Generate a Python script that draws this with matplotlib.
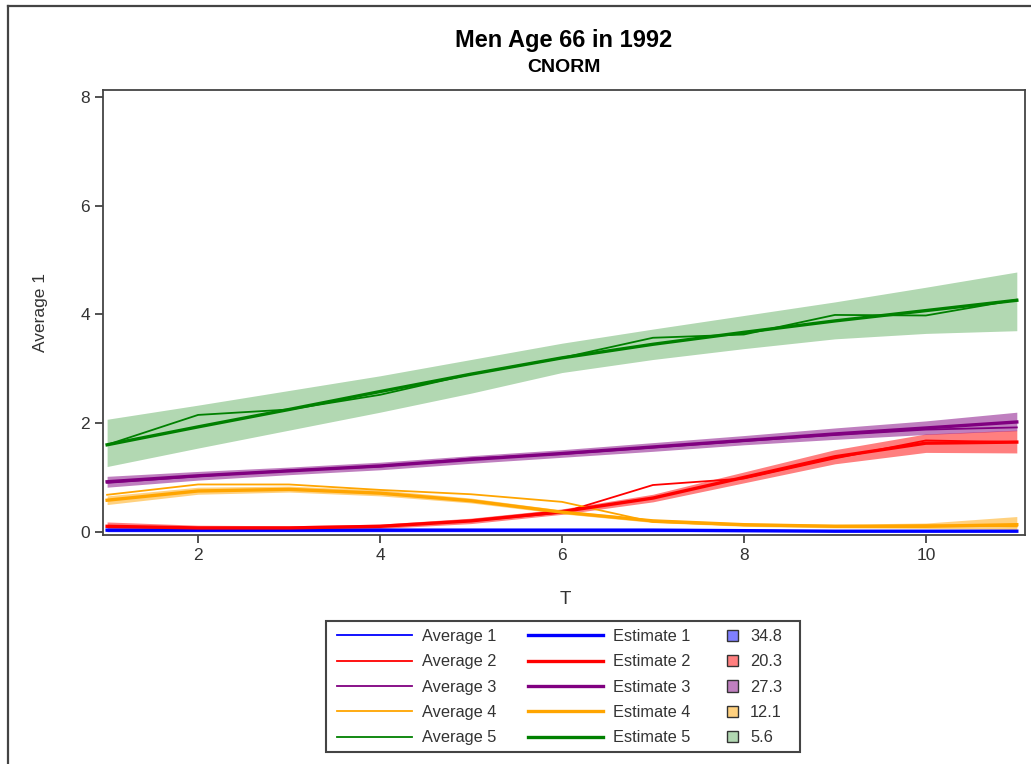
import matplotlib.pyplot as plt
from matplotlib.patches import Rectangle
from matplotlib.lines import Line2D
from matplotlib.colors import to_rgba

plt.rcParams['font.family'] = ['Liberation Sans', 'DejaVu Sans']

T = list(range(1, 12))

# group 1 (blue)
est1 = [0.03, 0.03, 0.03, 0.03, 0.03, 0.03, 0.03, 0.02, 0.01, 0.01, 0.01]
avg1 = [0.02, 0.02, 0.02, 0.02, 0.02, 0.02, 0.02, 0.02, 0.01, 0.01, 0.01]
lo1 = [0.0, 0.0, 0.0, 0.0, 0.0, 0.0, 0.0, 0.0, 0.0, 0.0, 0.0]
hi1 = [0.05, 0.05, 0.05, 0.05, 0.05, 0.05, 0.05, 0.04, 0.03, 0.03, 0.03]

# group 2 (red)
est2 = [0.1, 0.07, 0.07, 0.1, 0.2, 0.37, 0.62, 1.0, 1.38, 1.63, 1.65]
avg2 = [0.1, 0.06, 0.06, 0.1, 0.2, 0.35, 0.86, 0.98, 1.35, 1.68, 1.65]
lo2 = [0.02, 0.02, 0.03, 0.06, 0.15, 0.32, 0.55, 0.9, 1.25, 1.46, 1.45]
hi2 = [0.18, 0.12, 0.11, 0.14, 0.25, 0.42, 0.69, 1.1, 1.51, 1.8, 1.87]

# group 3 (purple)
est3 = [0.92, 1.03, 1.12, 1.21, 1.33, 1.44, 1.56, 1.68, 1.8, 1.91, 2.02]
avg3 = [0.9, 1.02, 1.13, 1.2, 1.35, 1.43, 1.55, 1.67, 1.78, 1.88, 1.92]
lo3 = [0.82, 0.95, 1.05, 1.14, 1.26, 1.37, 1.48, 1.6, 1.7, 1.79, 1.86]
hi3 = [1.02, 1.11, 1.19, 1.28, 1.4, 1.51, 1.64, 1.77, 1.91, 2.04, 2.2]

# group 4 (orange)
est4 = [0.58, 0.75, 0.78, 0.71, 0.57, 0.36, 0.2, 0.13, 0.1, 0.1, 0.13]
avg4 = [0.68, 0.87, 0.87, 0.77, 0.69, 0.55, 0.18, 0.12, 0.1, 0.12, 0.1]
lo4 = [0.5, 0.69, 0.73, 0.66, 0.53, 0.33, 0.17, 0.1, 0.07, 0.06, 0.04]
hi4 = [0.66, 0.82, 0.84, 0.77, 0.62, 0.4, 0.23, 0.16, 0.14, 0.16, 0.28]

# group 5 (green)
est5 = [1.6, 1.93, 2.25, 2.58, 2.9, 3.2, 3.45, 3.67, 3.88, 4.07, 4.26]
avg5 = [1.6, 2.15, 2.25, 2.52, 2.9, 3.2, 3.57, 3.63, 3.99, 3.98, 4.27]
lo5 = [1.2, 1.54, 1.87, 2.2, 2.55, 2.93, 3.17, 3.37, 3.55, 3.65, 3.7]
hi5 = [2.07, 2.33, 2.6, 2.87, 3.17, 3.47, 3.73, 3.98, 4.23, 4.5, 4.78]

shares = ["34.8", "20.3", "27.3", "12.1", "5.6"]
colors = ["#0000ff", "#ff0000", "#800080", "#ffa500", "#008000"]
alphas = [0.5, 0.5, 0.5, 0.5, 0.3]

ests = [est1, est2, est3, est4, est5]
avgs = [avg1, avg2, avg3, avg4, avg5]
los = [lo1, lo2, lo3, lo4, lo5]
his = [hi1, hi2, hi3, hi4, hi5]

W, H = 1031, 764
fig = plt.figure(figsize=(W / 100, H / 100), dpi=100)
ax = fig.add_axes([103 / W, 1 - 535 / H, (1025 - 103) / W, (535 - 90) / H])

for lo, hi, c, a in zip(los, his, colors, alphas):
    ax.fill_between(T, lo, hi, color=c, alpha=a, lw=0)
avg_handles = []
for y, c in zip(avgs, colors):
    h, = ax.plot(T, y, color=c, lw=1.3)
    avg_handles.append(h)
est_handles = []
for y, c in zip(ests, colors):
    h, = ax.plot(T, y, color=c, lw=2.4)
    est_handles.append(h)

ax.set_xlim(0.955, 11.09)
ax.set_ylim(-0.06, 8.13)
ax.set_xticks([2, 4, 6, 8, 10])
ax.set_yticks([0, 2, 4, 6, 8])
ax.tick_params(labelsize=12.5, colors="#333333", length=6, width=1.2)
for s in ax.spines.values():
    s.set_color("#444444")
    s.set_linewidth(1.3)
ax.set_xlabel("T", fontsize=13.5, color="#333333")
ax.set_ylabel("Average 1", fontsize=12.5, color="#333333")
ax.xaxis.set_label_coords(0.501, -0.125)
ax.yaxis.set_label_coords(-0.060, 0.5)

fig.text(564 / W, 1 - 41 / H, "Men Age 66 in 1992", ha="center", va="center",
         fontsize=17, fontweight="bold")
fig.text(564 / W, 1 - 67 / H, "CNORM", ha="center", va="center",
         fontsize=14, fontweight="bold")

# legend in three columns
common = dict(frameon=False, fontsize=11.8, loc="upper left", borderpad=0,
              borderaxespad=0, labelspacing=0.63, labelcolor="#333333")
fig.legend(avg_handles, ["Average %d" % i for i in range(1, 6)],
           bbox_to_anchor=(337 / W, 1 - 629 / H), handlelength=4.6,
           handletextpad=0.6, **common)
fig.legend(est_handles, ["Estimate %d" % i for i in range(1, 6)],
           bbox_to_anchor=(528 / W, 1 - 629 / H), handlelength=4.6,
           handletextpad=0.6, **common)
sq = [Rectangle((0, 0), 1, 1, facecolor=to_rgba(c, a), edgecolor="#333333", lw=1)
      for c, a in zip(colors, alphas)]
fig.legend(sq, shares, bbox_to_anchor=(727 / W, 1 - 629 / H), handlelength=0.7,
           handleheight=0.7, handletextpad=0.7, **common)
fig.add_artist(Rectangle((326 / W, 1 - 752 / H), (800 - 326) / W, (752 - 621) / H,
                         transform=fig.transFigure, fill=False, ec="#444444", lw=1.5))

# outer frame (left and top)
fig.add_artist(Line2D([8 / W, 8 / W], [0, 1 - 6 / H], transform=fig.transFigure,
                      color="#444444", lw=1.6))
fig.add_artist(Line2D([8 / W, 1], [1 - 6 / H, 1 - 6 / H], transform=fig.transFigure,
                      color="#444444", lw=1.6))

fig.savefig("out.png", dpi=100)
